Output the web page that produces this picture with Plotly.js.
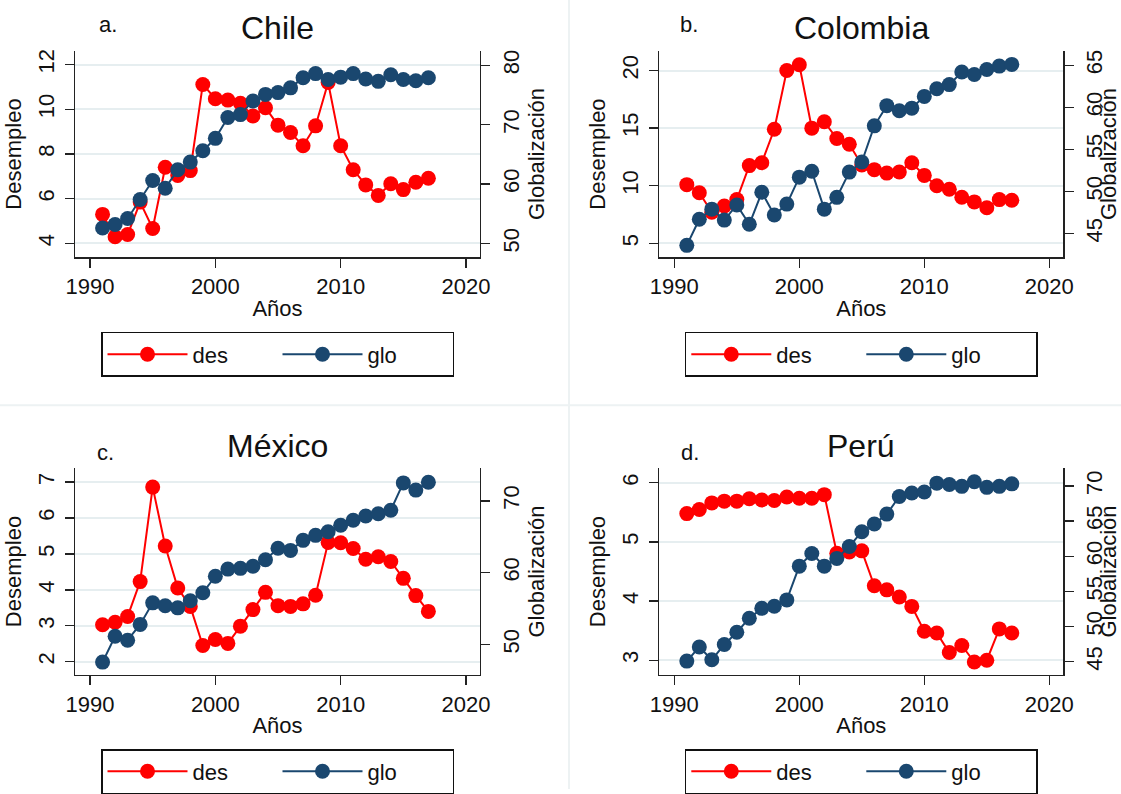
<!DOCTYPE html>
<html>
<head>
<meta charset="utf-8">
<script src="https://cdn.plot.ly/plotly-3.0.1.min.js"></script>
<style>html,body{margin:0;padding:0;background:#fff;}#chart{width:1121px;height:794px;}</style>
</head>
<body>
<div id="chart"></div>
<script>
// ---------- data ----------
const years = [1991,1992,1993,1994,1995,1996,1997,1998,1999,2000,2001,2002,2003,2004,2005,2006,2007,2008,2009,2010,2011,2012,2013,2014,2015,2016,2017];

const chileDes = [5.3,4.3,4.4,5.85,4.67,7.41,7.04,7.26,11.11,10.47,10.41,10.27,9.70,10.07,9.29,8.96,8.37,9.26,11.2,8.37,7.30,6.62,6.15,6.67,6.41,6.74,6.92];
const chileGlo = [52.6,53.2,54.2,57.4,60.6,59.3,62.4,63.7,65.6,67.7,71.2,71.7,74.0,75.1,75.4,76.2,77.9,78.6,77.6,78.0,78.6,77.7,77.3,78.4,77.6,77.4,77.9];

const colombiaDes = [10.1,9.4,7.7,8.25,8.8,11.75,12.0,14.9,20.0,20.5,15.0,15.55,14.1,13.6,11.8,11.4,11.1,11.2,12.0,10.9,10.0,9.7,9.0,8.6,8.1,8.8,8.75];
const colombiaGlo = [43.6,46.7,47.9,46.6,48.4,46.1,49.9,47.2,48.5,51.7,52.4,47.9,49.3,52.3,53.5,57.8,60.2,59.6,59.9,61.3,62.2,62.7,64.2,63.9,64.5,64.9,65.1];

const mexicoDes = [3.03,3.1,3.26,4.23,6.86,5.22,4.05,3.54,2.45,2.62,2.51,2.99,3.45,3.93,3.56,3.54,3.61,3.85,5.32,5.31,5.15,4.85,4.92,4.79,4.32,3.84,3.40];
const mexicoGlo = [47.55,51.15,50.6,52.8,55.8,55.4,55.1,56.1,57.2,59.5,60.5,60.6,60.9,61.8,63.4,63.1,64.5,65.2,65.7,66.6,67.3,67.9,68.2,68.7,72.5,71.5,72.6];

const peruDes = [5.48,5.55,5.66,5.69,5.69,5.73,5.71,5.70,5.76,5.74,5.74,5.80,4.81,4.83,4.85,4.26,4.19,4.07,3.91,3.49,3.46,3.13,3.25,2.97,3.0,3.53,3.46];
const peruGlo = [45.1,47.1,45.3,47.45,49.2,51.2,52.6,52.9,53.8,58.6,60.4,58.6,59.7,61.4,63.5,64.6,66.0,68.5,69.0,69.15,70.4,70.2,69.95,70.6,69.8,69.95,70.3];

const panelTitles = ['Chile','Colombia','México','Perú'];
const panelLabels = ['a.','b.','c.','d.'];
const seriesNames = ['des','glo'];
const xTickVals = [1990,2000,2010,2020];
const xTitle = 'Años';
const yLeftTitle = 'Desempleo';
const yRightTitle = 'Globalización';

// ---------- layout helpers ----------
const W = 1121, H = 794;
const FONT = 'Liberation Sans, Arial, sans-serif';
const TXT = '#111';
const RED = '#ff0000', NAVY = '#1a476f';
const fx = p => p / W;
const fy = p => 1 - p / H;

const panels = [
  {des: chileDes, glo: chileGlo, xl: 75, xr: 480, yt: 51, yb: 259,
   desRange: [3.38, 12.62], desTick: [4, 2], gloRange: [47.66, 82.46], gloTick: [50, 10]},
  {des: colombiaDes, glo: colombiaGlo, xl: 659.3, xr: 1063.3, yt: 51, yb: 259,
   desRange: [3.79, 21.72], desTick: [5, 5], gloRange: [42.17, 66.73], gloTick: [45, 5]},
  {des: mexicoDes, glo: mexicoGlo, xl: 75, xr: 480, yt: 471, yb: 679.3,
   desRange: [1.63, 7.39], desTick: [2, 1], gloRange: [45.75, 74.57], gloTick: [50, 10]},
  {des: peruDes, glo: peruGlo, xl: 659.3, xr: 1063.3, yt: 471, yb: 679.3,
   desRange: [2.75, 6.25], desTick: [3, 1], gloRange: [43.12, 72.55], gloTick: [45, 5]}
];

const traces = [];
const layout = {
  width: W, height: H,
  margin: {l: 0, r: 0, t: 0, b: 0, pad: 0},
  paper_bgcolor: '#ffffff', plot_bgcolor: '#ffffff',
  font: {family: FONT, color: TXT, size: 22},
  showlegend: true,
  annotations: [],
  shapes: [
    {type: 'line', xref: 'paper', yref: 'paper', x0: fx(569), x1: fx(569), y0: 0, y1: 1,
     line: {color: '#edf2f3', width: 2}, layer: 'below'},
    {type: 'line', xref: 'paper', yref: 'paper', x0: 0, x1: 1, y0: fy(407.7), y1: fy(407.7),
     line: {color: '#edf2f3', width: 2}, layer: 'below'}
  ]
};

const axisCommon = {
  ticks: 'outside', ticklen: 9, tickwidth: 1.3, tickcolor: '#222',
  showline: true, linecolor: '#222', linewidth: 1.3,
  zeroline: false, fixedrange: true,
  tickfont: {family: FONT, size: 22, color: TXT}
};

panels.forEach((p, i) => {
  const n = i + 1;
  const xa = 'x' + (n === 1 ? '' : n);
  const yl = 'y' + (2 * n - 1 === 1 ? '' : (2 * n - 1));
  const yr = 'y' + (2 * n);
  const xKey = 'xaxis' + (n === 1 ? '' : n);
  const ylKey = 'yaxis' + (2 * n - 1 === 1 ? '' : (2 * n - 1));
  const yrKey = 'yaxis' + (2 * n);
  const legKey = 'legend' + (n === 1 ? '' : n);

  traces.push({
    type: 'scatter', mode: 'lines+markers', name: seriesNames[0],
    x: years, y: p.des, xaxis: xa, yaxis: yl, legend: legKey,
    line: {color: RED, width: 2},
    marker: {color: RED, size: 15, symbol: 'circle'},
    hoverinfo: 'skip'
  });
  traces.push({
    type: 'scatter', mode: 'lines+markers', name: seriesNames[1],
    x: years, y: p.glo, xaxis: xa, yaxis: yr, legend: legKey,
    line: {color: NAVY, width: 2},
    marker: {color: NAVY, size: 15, symbol: 'circle'},
    hoverinfo: 'skip'
  });

  layout[xKey] = Object.assign({}, axisCommon, {
    domain: [fx(p.xl), fx(p.xr)], anchor: yl,
    range: [1988.8, 2021.12], tickvals: xTickVals,
    showgrid: false,
    title: {text: xTitle, font: {family: FONT, size: 22, color: TXT}, standoff: 2}
  });
  layout[ylKey] = Object.assign({}, axisCommon, {
    domain: [fy(p.yb), fy(p.yt)], anchor: xa,
    range: p.desRange, tick0: p.desTick[0], dtick: p.desTick[1],
    tickangle: -90, ticklabelstandoff: 2,
    showgrid: true, gridcolor: '#e6eef0', gridwidth: 2,
    title: {text: yLeftTitle, font: {family: FONT, size: 22, color: TXT}, standoff: 6}
  });
  layout[yrKey] = Object.assign({}, axisCommon, {
    overlaying: yl, side: 'right', anchor: xa,
    range: p.gloRange, tick0: p.gloTick[0], dtick: p.gloTick[1],
    tickangle: -90, ticklabelstandoff: 2,
    showgrid: false,
    title: {text: yRightTitle, font: {family: FONT, size: 22, color: TXT}, standoff: 2}
  });

  const legTop = i < 2 ? 334 : 754;
  layout[legKey] = {
    x: fx((p.xl + p.xr) / 2), y: fy(legTop), xanchor: 'center', yanchor: 'top',
    orientation: 'h', bgcolor: '#ffffff', bordercolor: '#111', borderwidth: 1.5,
    font: {family: FONT, size: 22, color: TXT},
    itemwidth: 80, entrywidth: 80, entrywidthmode: 'pixels',
    itemclick: false, itemdoubleclick: false
  };

  const cx = (p.xl + p.xr) / 2;
  const titleY = i < 2 ? 28 : 449;
  const labelY = i < 2 ? 25 : 455;
  layout.annotations.push({
    text: panelTitles[i], xref: 'paper', yref: 'paper', x: fx(cx), y: fy(titleY),
    xanchor: 'center', yanchor: 'middle', showarrow: false,
    font: {family: FONT, size: 32, color: TXT}
  });
  const labelX = [108, 689, 105, 690][i];
  layout.annotations.push({
    text: panelLabels[i], xref: 'paper', yref: 'paper', x: fx(labelX), y: fy(labelY),
    xanchor: 'center', yanchor: 'middle', showarrow: false,
    font: {family: FONT, size: 22, color: TXT}
  });
});

Plotly.newPlot('chart', traces, layout, {displayModeBar: false, staticPlot: true});
</script>
</body>
</html>
